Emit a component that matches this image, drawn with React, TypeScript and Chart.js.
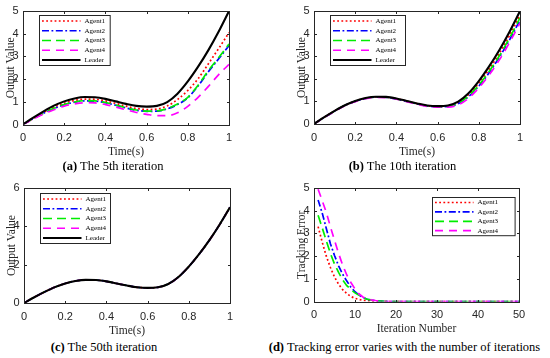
import React, { useEffect, useRef } from "react";
import { Chart, registerables } from "chart.js";

Chart.register(...registerables);

// ---------- data ----------
const TIME = [0, 0.05, 0.1, 0.15, 0.2, 0.25, 0.3, 0.35, 0.4, 0.45, 0.5, 0.55, 0.6, 0.65, 0.7, 0.75, 0.8, 0.85, 0.9, 0.95, 1];

const LEADER = [0, 0.3, 0.58, 0.83, 1.02, 1.15, 1.21, 1.2, 1.13, 1.02, 0.91, 0.82, 0.79, 0.82, 0.99, 1.36, 1.9, 2.55, 3.28, 4.1, 5.0];

// (a) 5th iteration
const A5_AGENT1 = [0, 0.27, 0.53, 0.76, 0.94, 1.06, 1.12, 1.11, 1.04, 0.93, 0.81, 0.71, 0.66, 0.68, 0.82, 1.1, 1.5, 2.02, 2.68, 3.35, 4.05];
const A5_AGENT2 = [0, 0.26, 0.5, 0.7, 0.87, 0.98, 1.04, 1.03, 0.96, 0.85, 0.73, 0.63, 0.58, 0.59, 0.69, 0.88, 1.18, 1.7, 2.33, 2.9, 3.48];
const A5_AGENT3 = [0, 0.26, 0.5, 0.71, 0.88, 0.99, 1.05, 1.04, 0.97, 0.86, 0.74, 0.64, 0.59, 0.6, 0.7, 0.9, 1.2, 1.73, 2.38, 2.95, 3.55];
const A5_AGENT4 = [0, 0.24, 0.46, 0.65, 0.81, 0.91, 0.96, 0.95, 0.88, 0.77, 0.65, 0.53, 0.45, 0.39, 0.39, 0.52, 0.8, 1.2, 1.68, 2.2, 2.65];

// (b) 10th iteration
const A10_AGENT1 = [0, 0.3, 0.58, 0.82, 1.01, 1.14, 1.2, 1.19, 1.12, 1.01, 0.9, 0.81, 0.78, 0.81, 0.95, 1.3, 1.8, 2.42, 3.13, 3.93, 4.82];
const A10_AGENT2 = [0, 0.29, 0.57, 0.82, 1.0, 1.13, 1.19, 1.18, 1.11, 1.0, 0.89, 0.8, 0.77, 0.78, 0.9, 1.21, 1.68, 2.27, 2.96, 3.74, 4.6];
const A10_AGENT3 = [0, 0.29, 0.57, 0.82, 1.0, 1.13, 1.19, 1.18, 1.11, 1.0, 0.89, 0.8, 0.77, 0.79, 0.92, 1.24, 1.72, 2.33, 3.02, 3.82, 4.7];
const A10_AGENT4 = [0, 0.29, 0.56, 0.81, 0.99, 1.12, 1.18, 1.17, 1.1, 0.99, 0.87, 0.78, 0.75, 0.75, 0.85, 1.14, 1.6, 2.17, 2.84, 3.62, 4.47];

// (c) 50th iteration: all agents coincide with the leader
const A50_AGENT = [0, 0.3, 0.58, 0.83, 1.02, 1.15, 1.21, 1.2, 1.13, 1.02, 0.91, 0.82, 0.79, 0.82, 0.99, 1.36, 1.9, 2.55, 3.28, 4.1, 5.0];

// (d) tracking error vs iteration
const ITER = [
  1, 2, 3, 4, 5, 6, 7, 8, 9, 10,
  11, 12, 13, 14, 15, 16, 17, 18, 19, 20,
  21, 22, 23, 24, 25, 26, 27, 28, 29, 30,
  31, 32, 33, 34, 35, 36, 37, 38, 39, 40,
  41, 42, 43, 44, 45, 46, 47, 48, 49, 50,
];
const ERR_AGENT1 = [
  3.3, 2.62, 2.0, 1.5, 1.08, 0.76, 0.52, 0.35, 0.22, 0.14,
  0.09, 0.05, 0.03, 0.02, 0.01, 0, 0, 0, 0, 0,
  0, 0, 0, 0, 0, 0, 0, 0, 0, 0,
  0, 0, 0, 0, 0, 0, 0, 0, 0, 0,
  0, 0, 0, 0, 0, 0, 0, 0, 0, 0,
];
const ERR_AGENT2 = [
  4.48, 3.9, 3.22, 2.55, 2.03, 1.57, 1.2, 0.9, 0.63, 0.43,
  0.28, 0.17, 0.1, 0.06, 0.03, 0.02, 0.01, 0, 0, 0,
  0, 0, 0, 0, 0, 0, 0, 0, 0, 0,
  0, 0, 0, 0, 0, 0, 0, 0, 0, 0,
  0, 0, 0, 0, 0, 0, 0, 0, 0, 0,
];
const ERR_AGENT3 = [
  3.8, 3.25, 2.68, 2.12, 1.65, 1.28, 0.95, 0.7, 0.53, 0.38,
  0.27, 0.17, 0.1, 0.06, 0.03, 0.02, 0.01, 0, 0, 0,
  0, 0, 0, 0, 0, 0, 0, 0, 0, 0,
  0, 0, 0, 0, 0, 0, 0, 0, 0, 0,
  0, 0, 0, 0, 0, 0, 0, 0, 0, 0,
];
const ERR_AGENT4 = [
  4.95, 4.45, 3.93, 3.3, 2.7, 2.12, 1.6, 1.17, 0.84, 0.55,
  0.33, 0.19, 0.11, 0.07, 0.04, 0.02, 0.01, 0, 0, 0,
  0, 0, 0, 0, 0, 0, 0, 0, 0, 0,
  0, 0, 0, 0, 0, 0, 0, 0, 0, 0,
  0, 0, 0, 0, 0, 0, 0, 0, 0, 0,
];

// tick values
const TIME_TICKS = [0, 0.2, 0.4, 0.6, 0.8, 1];
const OUTPUT_TICKS_5 = [0, 1, 2, 3, 4, 5];
const OUTPUT_TICKS_6 = [0, 2, 4, 6];
const ITER_TICKS = [0, 10, 20, 30, 40, 50];
const ERROR_TICKS = [0, 1, 2, 3, 4, 5];

const SERIES_NAMES = ["Agent1", "Agent2", "Agent3", "Agent4", "Leader"];

// ---------- styles ----------
const STYLES = [
  { color: "#ff0000", dash: [1.8, 2.4], width: 1.7 },
  { color: "#0000ff", dash: [7, 2.5, 1.8, 2.5], width: 1.7 },
  { color: "#00ee00", dash: [9, 5], width: 1.7 },
  { color: "#ff00ff", dash: [8, 6], width: 1.7 },
  { color: "#000000", dash: [] as number[], width: 2.1 },
];
const AXIS_COLOR = "#262626";
const SERIF = "'Liberation Serif', 'Times New Roman', serif";
const SANS = "'Liberation Sans', Arial, sans-serif";
const TITLE_SIZE = 11.5;
const TICK_SIZE = 11;

type Legend = { dx: number; dy: number; w: number; rowH: number; pad: number };
type PanelDef = {
  cx: number; cy: number; cw: number; ch: number;
  plot: [number, number, number, number];
  xMin: number; xMax: number; xTicks: number[];
  yMin: number; yMax: number; yTicks: number[];
  xTitle: string; yTitle: string;
  xs: number[]; series: number[][]; names: string[];
  smooth: boolean;
  legend: Legend;
};

function makeBoxPlugin() {
  return {
    id: "matlabBox",
    afterDatasetsDraw(chart: any) {
      const { ctx, chartArea } = chart;
      const l = Math.round(chartArea.left) + 0.5;
      const r = Math.round(chartArea.right) + 0.5;
      const t = Math.round(chartArea.top) + 0.5;
      const b = Math.round(chartArea.bottom) + 0.5;
      ctx.save();
      ctx.strokeStyle = AXIS_COLOR;
      ctx.lineWidth = 1;
      ctx.setLineDash([]);
      ctx.strokeRect(l, t, r - l, b - t);
      const tl = 2.5;
      ctx.beginPath();
      for (const tk of chart.scales.x.ticks) {
        const px = Math.round(chart.scales.x.getPixelForValue(tk.value)) + 0.5;
        ctx.moveTo(px, b); ctx.lineTo(px, b - tl);
        ctx.moveTo(px, t); ctx.lineTo(px, t + tl);
      }
      for (const tk of chart.scales.y.ticks) {
        const py = Math.round(chart.scales.y.getPixelForValue(tk.value)) + 0.5;
        ctx.moveTo(l, py); ctx.lineTo(l + tl, py);
        ctx.moveTo(r, py); ctx.lineTo(r - tl, py);
      }
      ctx.stroke();
      ctx.restore();
    },
  };
}

function makeLegendPlugin(lg: Legend) {
  return {
    id: "matlabLegend",
    afterDraw(chart: any) {
      const { ctx, chartArea } = chart;
      const ds = chart.data.datasets;
      const x0 = Math.round(chartArea.left + lg.dx) + 0.5;
      const y0 = Math.round(chartArea.top + lg.dy) + 0.5;
      const h = lg.pad * 2 + (ds.length - 1) * lg.rowH;
      ctx.save();
      ctx.fillStyle = "#ffffff";
      ctx.fillRect(x0, y0, lg.w, h);
      ctx.strokeStyle = AXIS_COLOR;
      ctx.lineWidth = 1;
      ctx.setLineDash([]);
      ctx.strokeRect(x0, y0, lg.w, h);
      ds.forEach((d: any, i: number) => {
        const yy = y0 + lg.pad + i * lg.rowH;
        ctx.save();
        ctx.strokeStyle = d.borderColor;
        ctx.lineWidth = d.borderWidth;
        ctx.setLineDash(d.borderDash || []);
        ctx.beginPath();
        ctx.moveTo(x0 + 2.5, yy);
        ctx.lineTo(x0 + 41, yy);
        ctx.stroke();
        ctx.restore();
        ctx.fillStyle = "#000000";
        ctx.font = `7px ${SERIF}`;
        ctx.textBaseline = "middle";
        ctx.textAlign = "left";
        ctx.fillText(d.label, x0 + 45, yy);
      });
      ctx.restore();
    },
  };
}

function Panel({ p }: { p: PanelDef }) {
  const ref = useRef<HTMLCanvasElement | null>(null);
  useEffect(() => {
    const [L, T, R, B] = p.plot;
    const xH = p.cy + p.ch - B;
    const yW = L - p.cx;
    const lh = TITLE_SIZE * 1.2;
    const xTitlePadBottom = p.cy + p.ch - (B + 27.5) - lh / 2;
    const yTitlePadTop = L - 12.5 - p.cx - lh / 2;
    const n = p.series.length;
    const datasets = p.series.map((ys, i) => ({
      label: p.names[i],
      data: p.xs.map((x, j) => ({ x, y: ys[j] })),
      borderColor: STYLES[i].color,
      backgroundColor: STYLES[i].color,
      borderDash: STYLES[i].dash,
      borderWidth: STYLES[i].width,
      pointRadius: 0,
      fill: false,
      order: n - i, // later series drawn on top, like MATLAB
      tension: p.smooth ? 0.4 : 0,
      cubicInterpolationMode: p.smooth ? ("monotone" as const) : ("default" as const),
    }));
    const tickFont = { family: SANS, size: TICK_SIZE, lineHeight: 1.2 };
    const titleFont = { family: SERIF, size: TITLE_SIZE, lineHeight: 1.2 };
    const chart = new Chart(ref.current as HTMLCanvasElement, {
      type: "line",
      data: { datasets },
      options: {
        animation: false,
        responsive: false,
        maintainAspectRatio: false,
        layout: { padding: { left: 0, top: T - p.cy, right: p.cx + p.cw - R, bottom: 0 } },
        plugins: { legend: { display: false }, tooltip: { enabled: false } },
        scales: {
          x: {
            type: "linear",
            min: p.xMin,
            max: p.xMax,
            afterBuildTicks: (s: any) => { s.ticks = p.xTicks.map((v) => ({ value: v })); },
            afterFit: (s: any) => { s.height = xH; },
            grid: { display: false, drawTicks: false },
            border: { display: false },
            ticks: { autoSkip: false, maxRotation: 0, padding: 7, font: tickFont, color: AXIS_COLOR, callback: (v: any) => `${v}` },
            title: { display: true, text: p.xTitle, font: titleFont, color: AXIS_COLOR, padding: { top: 0, bottom: xTitlePadBottom } },
          },
          y: {
            type: "linear",
            min: p.yMin,
            max: p.yMax,
            afterBuildTicks: (s: any) => { s.ticks = p.yTicks.map((v) => ({ value: v })); },
            afterFit: (s: any) => { s.width = yW; },
            grid: { display: false, drawTicks: false },
            border: { display: false },
            ticks: { autoSkip: false, padding: 4.5, font: tickFont, color: AXIS_COLOR, callback: (v: any) => `${v}` },
            title: { display: true, text: p.yTitle, font: titleFont, color: AXIS_COLOR, padding: { top: yTitlePadTop, bottom: 0 } },
          },
        },
      } as any,
      plugins: [makeBoxPlugin(), makeLegendPlugin(p.legend)],
    });
    return () => chart.destroy();
  }, []);
  return (
    <canvas
      ref={ref}
      width={p.cw}
      height={p.ch}
      style={{ position: "absolute", left: p.cx, top: p.cy, width: p.cw, height: p.ch }}
    />
  );
}

const PANELS: PanelDef[] = [
  {
    cx: 0, cy: 0, cw: 275, ch: 161, plot: [23, 7.5, 229, 124.5],
    xMin: 0, xMax: 1, xTicks: TIME_TICKS, yMin: 0, yMax: 5, yTicks: OUTPUT_TICKS_5,
    xTitle: "Time(s)", yTitle: "Output Value",
    xs: TIME, series: [A5_AGENT1, A5_AGENT2, A5_AGENT3, A5_AGENT4, LEADER], names: SERIES_NAMES,
    smooth: true, legend: { dx: 16.3, dy: 4.2, w: 70.7, rowH: 9.75, pad: 5.5 },
  },
  {
    cx: 291, cy: 0, cw: 259, ch: 161, plot: [314, 7.5, 520, 124],
    xMin: 0, xMax: 1, xTicks: TIME_TICKS, yMin: 0, yMax: 5, yTicks: OUTPUT_TICKS_5,
    xTitle: "Time(s)", yTitle: "Output Value",
    xs: TIME, series: [A10_AGENT1, A10_AGENT2, A10_AGENT3, A10_AGENT4, LEADER], names: SERIES_NAMES,
    smooth: true, legend: { dx: 16, dy: 4.2, w: 75, rowH: 9.75, pad: 5.5 },
  },
  {
    cx: 1, cy: 177, cw: 274, ch: 163, plot: [24, 185, 230, 303],
    xMin: 0, xMax: 1, xTicks: TIME_TICKS, yMin: 0, yMax: 6, yTicks: OUTPUT_TICKS_6,
    xTitle: "Time(s)", yTitle: "Output Value",
    xs: TIME, series: [A50_AGENT, A50_AGENT, A50_AGENT, A50_AGENT, LEADER], names: SERIES_NAMES,
    smooth: true, legend: { dx: 16, dy: 5, w: 70, rowH: 9.75, pad: 5.5 },
  },
  {
    cx: 291, cy: 177, cw: 259, ch: 163, plot: [314, 185, 519, 301.5],
    xMin: 0, xMax: 50, xTicks: ITER_TICKS, yMin: 0, yMax: 5, yTicks: ERROR_TICKS,
    xTitle: "Iteration Number", yTitle: "Tracking Error",
    xs: ITER, series: [ERR_AGENT1, ERR_AGENT2, ERR_AGENT3, ERR_AGENT4], names: SERIES_NAMES.slice(0, 4),
    smooth: false, legend: { dx: 117.7, dy: 9, w: 82.6, rowH: 9.4, pad: 5 },
  },
];

const CAPTIONS = [
  { tag: "(a)", text: " The 5th iteration", x: 113, y: 166 },
  { tag: "(b)", text: " The 10th iteration", x: 402.5, y: 166 },
  { tag: "(c)", text: " The 50th iteration", x: 104, y: 347 },
  { tag: "(d)", text: " Tracking error varies with the number of iterations", x: 404.5, y: 347 },
];

export default function App() {
  return (
    <div style={{ position: "absolute", left: 0, top: 0, width: 550, height: 358, background: "#ffffff", overflow: "hidden" }}>
      {PANELS.map((p, i) => (
        <Panel key={i} p={p} />
      ))}
      {CAPTIONS.map((c, i) => (
        <div
          key={i}
          style={{
            position: "absolute",
            left: c.x,
            top: c.y,
            transform: "translate(-50%, -50%)",
            whiteSpace: "nowrap",
            fontFamily: SERIF,
            fontSize: 12.5,
            lineHeight: "14px",
            color: "#000000",
          }}
        >
          <b>{c.tag}</b>
          {c.text}
        </div>
      ))}
    </div>
  );
}
